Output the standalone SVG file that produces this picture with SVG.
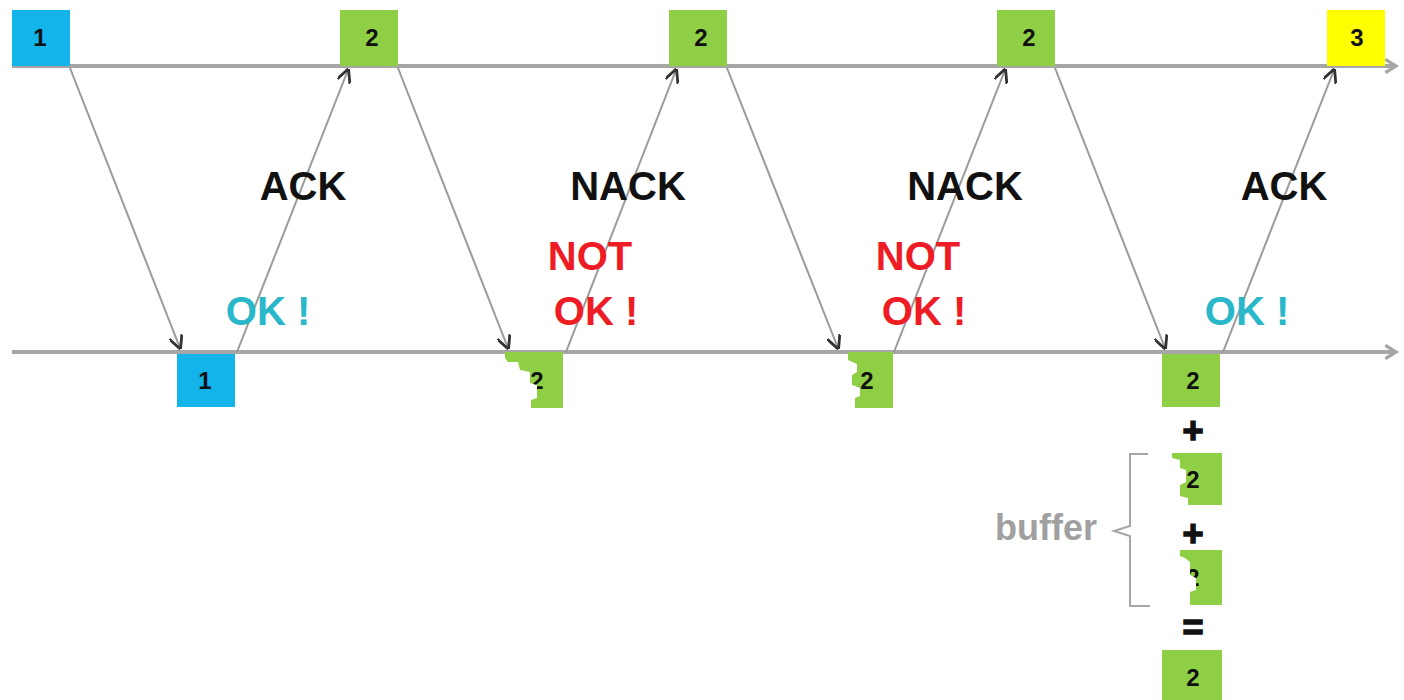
<svg xmlns="http://www.w3.org/2000/svg" width="1404" height="700" viewBox="0 0 1404 700">
<style>
.tl{stroke:#a6a6a6;stroke-width:4;fill:none}
.ar{stroke:#9a9a9a;stroke-width:2;fill:none;marker-end:url(#ah)}
.blue{fill:#12b4ea}
.green{fill:#8fcf45}
.yel{fill:#ffff00}
.num{font-family:"Liberation Sans",Arial,sans-serif;font-weight:bold;font-size:24px;fill:#111;text-anchor:middle}
.big{font-family:"Liberation Sans",Arial,sans-serif;font-weight:bold;font-size:40px;text-anchor:middle}
.blk{fill:#111}
.red{fill:#ee1c24}
.cyan{fill:#2ab7c9}
.op{font-family:"Liberation Sans",Arial,sans-serif;font-weight:bold;font-size:36px;fill:#111;stroke:#111;stroke-width:1.5;text-anchor:middle}
.buf{font-family:"Liberation Sans",Arial,sans-serif;font-weight:bold;font-size:36px;fill:#a0a0a0}
</style>
<defs>
<marker id="ah" viewBox="0 0 10 10" refX="9" refY="5" markerWidth="7" markerHeight="7" orient="auto" markerUnits="strokeWidth">
<path d="M0,0 L10,5 L0,10" fill="none" stroke="#333" stroke-width="2"/>
</marker>
<marker id="oh" viewBox="0 0 12 12" refX="10" refY="6" markerWidth="4" markerHeight="4" orient="auto" markerUnits="strokeWidth">
<path d="M2,1 L10,6 L2,11" fill="none" stroke="#a6a6a6" stroke-width="2.5"/>
</marker>
<clipPath id="d1"><polygon points="505,352 563,352 563,408 531,408 531,400 537,398 537,385 530,383 530,372 520,370 518,362 508,362 505,358"/></clipPath>
<clipPath id="d2"><polygon points="848,352 893,352 893,408 855,408 855,398 860,396 860,388 852,385 852,375 857,372 857,364 848,360"/></clipPath>
<clipPath id="d3"><polygon points="1172,453 1222,453 1222,505 1188,505 1188,498 1180,496 1180,485 1186,482 1186,470 1180,468 1180,460 1172,458"/></clipPath>
<clipPath id="d4"><polygon points="1180,550 1222,550 1222,605 1190,605 1190,592 1196,590 1196,578 1190,575 1190,562 1185,558 1180,556"/></clipPath>
</defs>
<g id="timelines">
<line class="tl" x1="12" y1="66" x2="1396" y2="66" marker-end="url(#oh)"/>
<line class="tl" x1="12" y1="352" x2="1396" y2="352" marker-end="url(#oh)"/>
</g>
<g id="connectors">
<line class="ar" x1="70" y1="68" x2="180" y2="348"/>
<line class="ar" x1="237" y1="352" x2="348" y2="70"/>
<line class="ar" x1="398" y1="68" x2="508" y2="348"/>
<line class="ar" x1="566" y1="352" x2="676" y2="70"/>
<line class="ar" x1="727" y1="68" x2="838" y2="348"/>
<line class="ar" x1="894" y1="352" x2="1005" y2="70"/>
<line class="ar" x1="1055" y1="68" x2="1165" y2="348"/>
<line class="ar" x1="1223" y1="352" x2="1334" y2="70"/>
</g>
<g id="top1"><rect class="blue" x="12" y="10" width="58" height="56"/><text class="num" x="40" y="46">1</text></g>
<g id="top2a"><rect class="green" x="340" y="10" width="58" height="56"/><text class="num" x="372" y="46">2</text></g>
<g id="top2b"><rect class="green" x="669" y="10" width="58" height="56"/><text class="num" x="701" y="46">2</text></g>
<g id="top2c"><rect class="green" x="997" y="10" width="58" height="56"/><text class="num" x="1029" y="46">2</text></g>
<g id="top3"><rect class="yel" x="1327" y="10" width="58" height="56"/><text class="num" x="1357" y="46">3</text></g>
<g id="bot1"><rect class="blue" x="177" y="354" width="58" height="53"/><text class="num" x="205" y="389">1</text></g>
<g id="bot2a" clip-path="url(#d1)"><rect class="green" x="505" y="352" width="58" height="56"/><text class="num" x="537" y="389">2</text></g>
<g id="bot2b" clip-path="url(#d2)"><rect class="green" x="835" y="352" width="58" height="56"/><text class="num" x="867" y="389">2</text></g>
<g id="bot2c"><rect class="green" x="1162" y="354" width="58" height="53"/><text class="num" x="1193" y="389">2</text></g>
<g id="labels">
<text class="big blk" x="303" y="200">ACK</text>
<text class="big blk" x="628" y="200">NACK</text>
<text class="big blk" x="965" y="200">NACK</text>
<text class="big blk" x="1284" y="200">ACK</text>
<text class="big cyan" x="268" y="325">OK !</text>
<text class="big red" x="590" y="270">NOT</text>
<text class="big red" x="596" y="325">OK !</text>
<text class="big red" x="918" y="270">NOT</text>
<text class="big red" x="924" y="325">OK !</text>
<text class="big cyan" x="1247" y="325">OK !</text>
</g>
<g id="sum">
<text class="op" x="1193" y="443">+</text>
<g clip-path="url(#d3)"><rect class="green" x="1162" y="453" width="60" height="52"/><text class="num" x="1193" y="488">2</text></g>
<text class="op" x="1193" y="546">+</text>
<g clip-path="url(#d4)"><rect class="green" x="1162" y="550" width="60" height="55"/><text class="num" x="1193" y="586">2</text></g>
<text class="op" x="1193" y="640">=</text>
<g><rect class="green" x="1162" y="650" width="60" height="52"/><text class="num" x="1193" y="686">2</text></g>
</g>
<g id="buffer">
<path d="M1148,454 L1130,454 L1130,526 L1114,531 L1130,536 L1130,606 L1150,606" fill="none" stroke="#a6a6a6" stroke-width="2"/>
<text class="buf" x="995" y="540">buffer</text>
</g>
</svg>
